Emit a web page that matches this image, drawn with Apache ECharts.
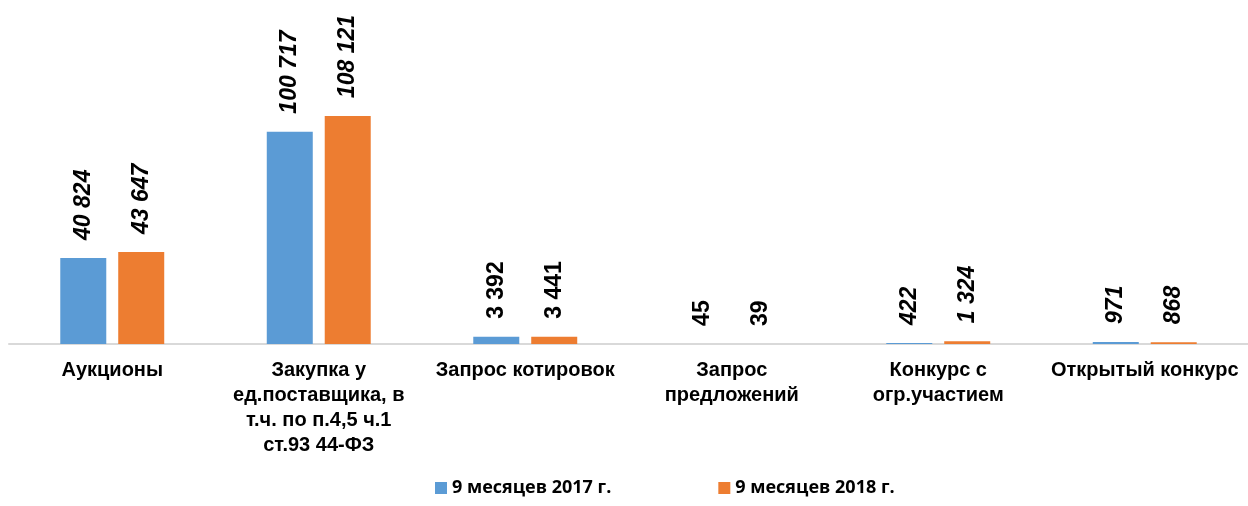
<!DOCTYPE html>
<html>
<head>
<meta charset="utf-8">
<script src="https://cdn.jsdelivr.net/npm/echarts@6/dist/echarts.min.js"></script>
<style>
  html, body { margin: 0; padding: 0; background: #fff; }
  #chart { width: 1248px; height: 506px; }
</style>
</head>
<body>
<div id="chart"></div>
<script>
const categories = [
  'Аукционы',
  'Закупка у\nед.поставщика, в\nт.ч. по п.4,5 ч.1\nст.93 44-ФЗ',
  'Запрос котировок',
  'Запрос\nпредложений',
  'Конкурс с\nогр.участием',
  'Открытый конкурс'
];
const seriesNames = ['9 месяцев 2017 г.', '9 месяцев 2018 г.'];
const values2017 = [40824, 100717, 3392, 45, 422, 971];
const values2018 = [43647, 108121, 3441, 39, 1324, 868];
// labels drawn upright (not italic) in the original
const uprightIdx = [2, 3];

const colors = ['#5B9BD5', '#ED7D31'];

function fmt(v) {
  return String(v).replace(/\B(?=(\d{3})+(?!\d))/g, ' ');
}

function toData(arr) {
  return arr.map((v, i) => ({
    value: v,
    label: { fontStyle: uprightIdx.includes(i) ? 'normal' : 'italic' }
  }));
}

const labelOpt = {
  show: true,
  position: 'top',
  rotate: 90,
  align: 'left',
  verticalAlign: 'middle',
  distance: 18,
  fontFamily: 'Liberation Sans, Arial, sans-serif',
  fontWeight: 'bold',
  fontSize: 23,
  color: '#000',
  formatter: p => fmt(p.value)
};

const myChart = echarts.init(document.getElementById('chart'));
myChart.setOption({
  animation: false,
  grid: { left: 9, right: -3, top: 91, bottom: 162 },
  legend: {
    left: 430,
    top: 474,
    itemWidth: 12,
    itemHeight: 12,
    itemGap: 107,
    icon: 'rect',
    textStyle: {
      fontFamily: 'Open Sans, Liberation Sans, sans-serif',
      fontWeight: 'bold',
      fontSize: 18,
      color: '#000'
    },
    data: seriesNames
  },
  xAxis: {
    type: 'category',
    data: categories,
    axisLine: { lineStyle: { color: '#D9D9D9', width: 2 } },
    axisTick: { show: false },
    axisLabel: {
      interval: 0,
      margin: 14,
      fontFamily: 'Liberation Sans, Arial, sans-serif',
      fontWeight: 'bold',
      fontSize: 20,
      lineHeight: 25,
      color: '#000'
    }
  },
  yAxis: {
    type: 'value',
    min: 0,
    max: 120000,
    show: false,
    splitLine: { show: false }
  },
  series: [
    {
      name: seriesNames[0],
      type: 'bar',
      barWidth: 46,
      barGap: '26%',
      itemStyle: { color: colors[0] },
      label: labelOpt,
      data: toData(values2017)
    },
    {
      name: seriesNames[1],
      type: 'bar',
      barWidth: 46,
      barGap: '26%',
      itemStyle: { color: colors[1] },
      label: labelOpt,
      data: toData(values2018)
    }
  ]
});
window.onresize = () => myChart.resize();
</script>
</body>
</html>
